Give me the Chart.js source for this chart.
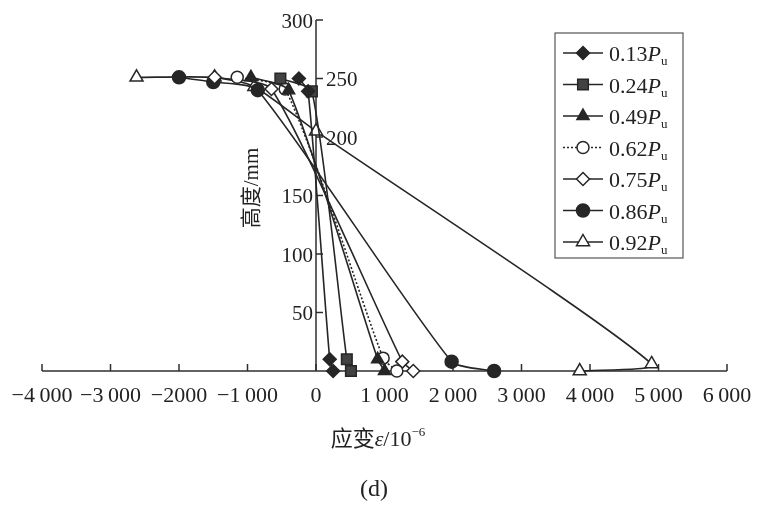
<!DOCTYPE html>
<html><head><meta charset="utf-8">
<script src="https://cdn.jsdelivr.net/npm/chart.js@4/dist/chart.umd.min.js"></script>
<style>html,body{margin:0;padding:0;background:#fff}#wrap{width:760px;height:507px;position:relative}</style>
</head><body><div id="wrap"><canvas id="c" width="760" height="507"></canvas></div>
<script>
// ---- data ----
const loadLevels = ['0.13', '0.24', '0.49', '0.62', '0.75', '0.86', '0.92'];
const strain013 = [-250, -115, 200, 250];
const height013 = [250, 239, 10, 0];
const strain024 = [-520, -60, 450, 510];
const height024 = [250, 239, 10, 0];
const strain049 = [-950, -400, 900, 1000];
const height049 = [251, 240, 10, 0];
const strain062 = [-1150, -450, 980, 1180];
const height062 = [251, 241, 11, 0];
const strain075 = [-1480, -650, 1260, 1420];
const height075 = [251, 241, 8, 0];
const strain086 = [-2000, -1500, -850, 1980, 2600];
const height086 = [251, 247, 240, 8, 0];
const strain092 = [-2620, -1480, -900, 0, 4900, 3850];
const height092 = [251, 251, 243, 205, 6, 0];
const xTicks = [-4000, -3000, -2000, -1000, 0, 1000, 2000, 3000, 4000, 5000, 6000];
const xTickLabels = ['\u22124\u2009000', '\u22123\u2009000', '\u22122000', '\u22121\u2009000', '0', '1\u2009000', '2\u2009000', '3\u2009000', '4\u2009000', '5\u2009000', '6\u2009000'];
const yTicks = [50, 100, 150, 200, 250, 300];
const yTickLabels = ['50', '100', '150', '200', '250', '300'];

// ---- styles ----
const mirroredYTicks = [200, 250];
const INK = '#262626';
const seriesStyle = [
  { style: 'rectRot', r: 6.5, fill: INK, dash: [] },
  { style: 'rect', r: 7.5, fill: '#424242', dash: [] },
  { style: 'triangle', r: 7, fill: INK, dash: [] },
  { style: 'circle', r: 6, fill: '#fff', dash: [2, 2] },
  { style: 'rectRot', r: 6.5, fill: '#fff', dash: [] },
  { style: 'circle', r: 6.5, fill: INK, dash: [] },
  { style: 'triangle', r: 7.5, fill: '#fff', dash: [] }
];
const strains = [strain013, strain024, strain049, strain062, strain075, strain086, strain092];
const heights = [height013, height024, height049, height062, height075, height086, height092];

const datasets = strains.map((xs, i) => ({
  label: loadLevels[i] + 'Pu',
  data: xs.map((x, j) => ({ x: x, y: heights[i][j] })),
  showLine: true,
  borderColor: INK,
  borderWidth: 1.6,
  borderDash: seriesStyle[i].dash,
  tension: 0.2,
  pointStyle: seriesStyle[i].style,
  pointRadius: seriesStyle[i].r,
  pointBackgroundColor: seriesStyle[i].fill,
  pointBorderColor: INK,
  pointBorderWidth: 1.5,
  clip: false
}));

function drawMarker(ctx, style, x, y, r) {
  ctx.beginPath();
  if (style === 'circle') ctx.arc(x, y, r, 0, Math.PI * 2);
  else if (style === 'rect') { const s = r * Math.SQRT1_2; ctx.rect(x - s, y - s, 2 * s, 2 * s); }
  else if (style === 'rectRot') { ctx.moveTo(x, y - r); ctx.lineTo(x + r, y); ctx.lineTo(x, y + r); ctx.lineTo(x - r, y); ctx.closePath(); }
  else if (style === 'triangle') { ctx.moveTo(x, y - r); ctx.lineTo(x + 0.866 * r, y + 0.5 * r); ctx.lineTo(x - 0.866 * r, y + 0.5 * r); ctx.closePath(); }
  ctx.fill(); ctx.stroke();
}

const SERIF = '"Liberation Serif", "Times New Roman", serif';
const CJK = '"Liberation Serif", "Noto Sans CJK SC", serif';

const axesPlugin = {
  id: 'customAxes',
  beforeDatasetsDraw(chart) {
    const ctx = chart.ctx, xs = chart.scales.x, ys = chart.scales.y;
    const x0 = xs.getPixelForValue(0), y0 = ys.getPixelForValue(0);
    ctx.save();
    ctx.strokeStyle = '#2e2e2e'; ctx.lineWidth = 1.5;
    // x axis
    ctx.beginPath(); ctx.moveTo(xs.left, y0); ctx.lineTo(xs.right, y0); ctx.stroke();
    ctx.fillStyle = '#222';
    ctx.font = '22px ' + SERIF; ctx.textAlign = 'center'; ctx.textBaseline = 'top';
    xTicks.forEach((v, i) => {
      const px = xs.getPixelForValue(v);
      ctx.beginPath(); ctx.moveTo(px, y0); ctx.lineTo(px, y0 - 7); ctx.stroke();
      ctx.fillText(xTickLabels[i], px, y0 + 14);
    });
    // y axis
    const yTop = ys.getPixelForValue(300);
    ctx.beginPath(); ctx.moveTo(x0, y0); ctx.lineTo(x0, yTop); ctx.stroke();
    ctx.font = '21px ' + SERIF; ctx.textBaseline = 'middle';
    yTicks.forEach((v, i) => {
      const py = ys.getPixelForValue(v);
      ctx.beginPath(); ctx.moveTo(x0, py); ctx.lineTo(x0 + 7, py); ctx.stroke();
      if (mirroredYTicks.includes(v)) { ctx.textAlign = 'left'; ctx.fillText(yTickLabels[i], x0 + 10, py + 2); }
      else { ctx.textAlign = 'right'; ctx.fillText(yTickLabels[i], x0 - 3, py + 2); }
    });
    ctx.restore();
  },
  afterDraw(chart) {
    const ctx = chart.ctx;
    ctx.save();
    ctx.fillStyle = '#222';
    // y title
    ctx.save();
    ctx.translate(252, 188); ctx.rotate(-Math.PI / 2);
    ctx.font = '21px ' + CJK; ctx.textAlign = 'center'; ctx.textBaseline = 'middle';
    ctx.fillText('高度/mm', 0, 0);
    ctx.restore();
    // x title: 应变ε/10^-6
    ctx.textBaseline = 'alphabetic'; ctx.textAlign = 'left';
    const parts = [
      { t: '应变', f: '22px ' + CJK, dy: 0 },
      { t: 'ε', f: 'italic 22px ' + SERIF, dy: 0 },
      { t: '/10', f: '22px ' + SERIF, dy: 0 },
      { t: '\u22126', f: '13px ' + SERIF, dy: -10 }
    ];
    let w = 0; parts.forEach(p => { ctx.font = p.f; w += ctx.measureText(p.t).width; });
    let cx = 378 - w / 2;
    parts.forEach(p => { ctx.font = p.f; ctx.fillText(p.t, cx, 446 + p.dy); cx += ctx.measureText(p.t).width; });
    // (d)
    ctx.font = '24px ' + SERIF; ctx.textAlign = 'center';
    ctx.fillText('(d)', 374, 496);
    // legend
    const bx = 555, by = 33, bw = 128, bh = 225;
    ctx.strokeStyle = '#555'; ctx.lineWidth = 1.2;
    ctx.strokeRect(bx, by, bw, bh);
    loadLevels.forEach((lv, i) => {
      const st = seriesStyle[i];
      const ly = 53 + i * 31.5;
      ctx.strokeStyle = INK; ctx.lineWidth = 1.5;
      ctx.setLineDash(st.dash);
      ctx.beginPath(); ctx.moveTo(563, ly); ctx.lineTo(603, ly); ctx.stroke();
      ctx.setLineDash([]);
      ctx.fillStyle = st.fill;
      drawMarker(ctx, st.style, 583, ly, st.r);
      ctx.fillStyle = '#222'; ctx.textAlign = 'left'; ctx.textBaseline = 'alphabetic';
      let tx = 609;
      ctx.font = '22px ' + SERIF; ctx.fillText(lv, tx, ly + 8); tx += ctx.measureText(lv).width;
      ctx.font = 'italic 22px ' + SERIF; ctx.fillText('P', tx, ly + 8); tx += ctx.measureText('P').width;
      ctx.font = '13px ' + SERIF; ctx.fillText('u', tx, ly + 12);
    });
    ctx.restore();
  }
};

new Chart(document.getElementById('c'), {
  type: 'scatter',
  data: { datasets: datasets },
  options: {
    responsive: false,
    animation: false,
    layout: { padding: { left: 42, right: 33, top: 20, bottom: 136 } },
    plugins: { legend: { display: false }, tooltip: { enabled: false } },
    scales: {
      x: { type: 'linear', min: -4000, max: 6000, display: false },
      y: { type: 'linear', min: 0, max: 300, display: false }
    }
  },
  plugins: [axesPlugin]
});
</script>
</body></html>
